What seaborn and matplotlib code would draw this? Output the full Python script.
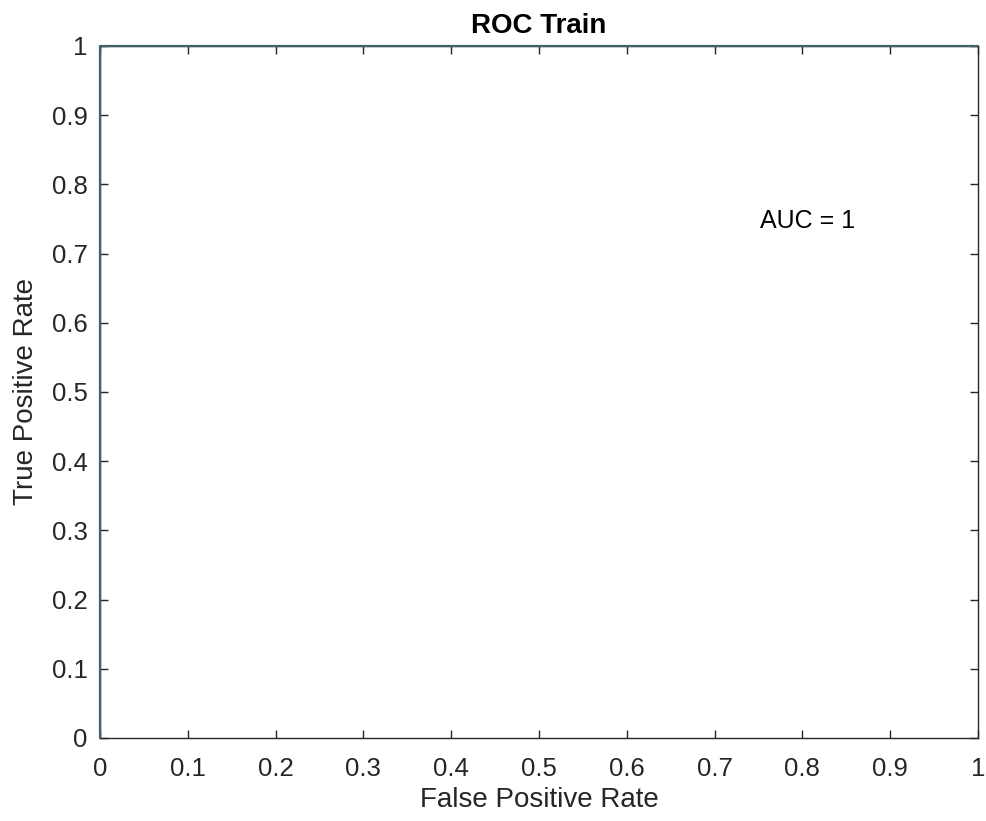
import matplotlib
matplotlib.use("Agg")
import matplotlib.pyplot as plt
import seaborn as sns
import pandas as pd

# ROC points for the training set (perfect classifier)
fpr = [0.0, 0.0, 1.0]
tpr = [0.0, 1.0, 1.0]
auc_value = 1
ticks = [0, 0.1, 0.2, 0.3, 0.4, 0.5, 0.6, 0.7, 0.8, 0.9, 1]
tick_labels = ["0", "0.1", "0.2", "0.3", "0.4", "0.5", "0.6", "0.7", "0.8", "0.9", "1"]

sns.set_theme(style="ticks")
plt.rcParams["font.family"] = ["Liberation Sans", "DejaVu Sans"]

fig = plt.figure(figsize=(9.87, 8.21), dpi=100)
ax = fig.add_axes([0.1013, 0.1011, 0.8896, 0.8430])

df = pd.DataFrame({"FPR": fpr, "TPR": tpr})
sns.lineplot(data=df, x="FPR", y="TPR", ax=ax, color="#3d6468", linewidth=1.6,
             sort=False, estimator=None, clip_on=False, zorder=3)

ax.set_xlim(0, 1)
ax.set_ylim(0, 1)
ax.set_xticks(ticks)
ax.set_xticklabels(tick_labels)
ax.set_yticks(ticks)
ax.set_yticklabels(tick_labels)
ax.tick_params(direction="in", length=6, width=1, colors="#262626",
               labelsize=18.5, top=True, right=True)
ax.tick_params(axis="x", pad=14)
ax.tick_params(axis="y", pad=9)
for side in ["left", "right", "top", "bottom"]:
    ax.spines[side].set_visible(True)
    ax.spines[side].set_color("#262626")
    ax.spines[side].set_linewidth(1.0)

ax.set_xlabel("False Positive Rate", fontsize=20, color="#262626", labelpad=4)
ax.set_ylabel("True Positive Rate", fontsize=20, color="#262626", labelpad=9)
ax.set_title("ROC Train", fontsize=20, fontweight="bold", color="#000000", pad=9)
ax.text(0.752, 0.747, f"AUC = {auc_value}", fontsize=18, color="#000000",
        ha="left", va="center")

fig.savefig("out.png", dpi=100, facecolor="white")
